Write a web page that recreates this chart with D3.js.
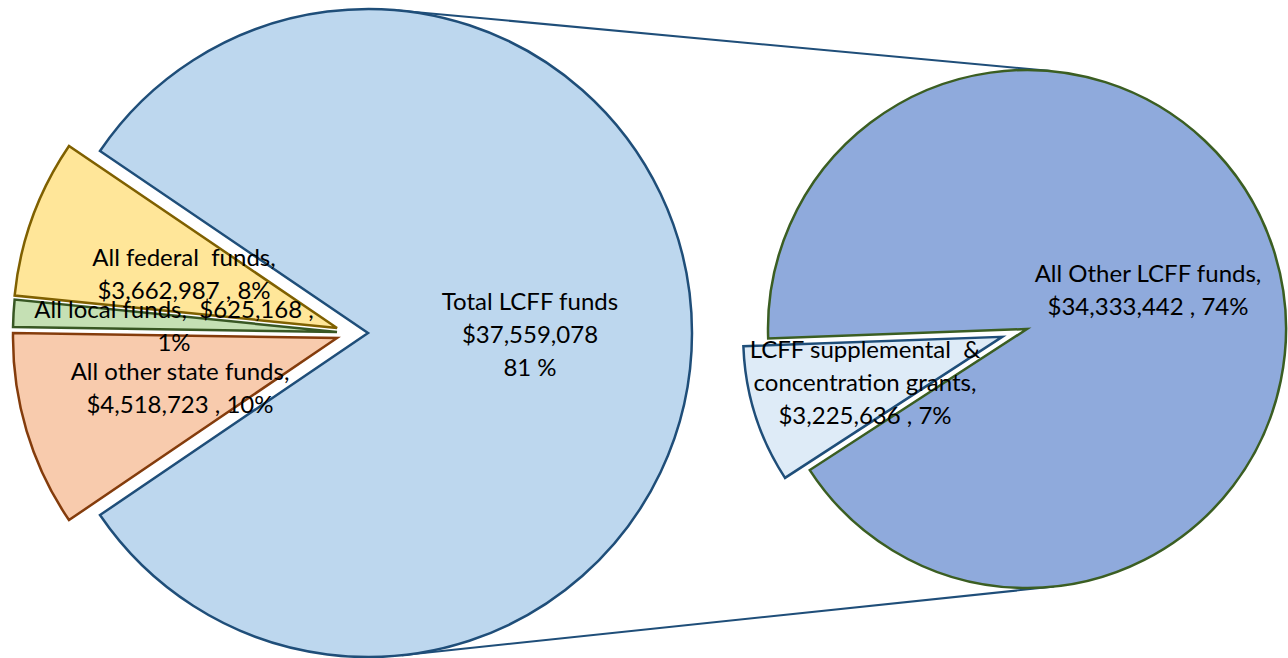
<!DOCTYPE html>
<html>
<head>
<meta charset="utf-8">
<script src="https://cdn.jsdelivr.net/npm/d3@7"></script>
<style>
  html, body { margin: 0; padding: 0; background: #fff; }
  svg { display: block; }
  text { font-family: Lato, "Open Sans", sans-serif; font-size: 24px; fill: #000; }
</style>
</head>
<body>
<svg id="chart" width="1288" height="658"></svg>
<script>
// ---- data ----
const mainCategories = ["Total LCFF funds", "All federal funds", "All local funds", "All other state funds"];
const mainValues = [37559078, 3662987, 625168, 4518723];
const mainPercents = ["81 %", "8%", "1%", "10%"];

const subCategories = ["LCFF supplemental & concentration grants", "All Other LCFF funds"];
const subValues = [3225636, 34333442];
const subPercents = ["7%", "74%"];

// ---- styles ----
const mainFill = ["#BDD7EE", "#FFE699", "#C5E0B4", "#F8CBAD"];
const mainStroke = ["#1F4E79", "#7F6000", "#385723", "#843C0C"];
const subFill = ["#DEEBF7", "#8FAADC"];
const subStroke = ["#1F4E79", "#3B5E22"];

const svg = d3.select("#chart");
const deg = Math.PI / 180;

// geometry
const c1 = {x: 368, y: 333, r: 324};
const c2 = {x: 1027, y: 329, r: 259};

// connector lines (external tangents)
const dx = c2.x - c1.x, dy = c2.y - c1.y, dist = Math.hypot(dx, dy);
const ux = dx / dist, uy = dy / dist;
const sa = (c1.r - c2.r) / dist, ca = Math.sqrt(1 - sa * sa);
[-1, 1].forEach(s => {
  const nx = ux * sa - s * uy * ca;
  const ny = uy * sa + s * ux * ca;
  svg.append("line")
    .attr("x1", c1.x + c1.r * nx).attr("y1", c1.y + c1.r * ny)
    .attr("x2", c2.x + c2.r * nx).attr("y2", c2.y + c2.r * ny)
    .attr("stroke", "#1F4E79").attr("stroke-width", 2);
});

// main pie: LCFF centred to the right, others counter-clockwise on the left
const total = d3.sum(mainValues);
const half = mainValues[0] / total * Math.PI;
const pieMain = d3.pie().sort(null).value(d => d)
  .startAngle(Math.PI / 2 + half).endAngle(Math.PI / 2 + half - 2 * Math.PI);
const arcMain = d3.arc().innerRadius(0).outerRadius(c1.r);
const mainOffsets = [[0, 0], [-31, -5], [-31, -1], [-31, 5]];

const gMain = svg.append("g").attr("transform", `translate(${c1.x},${c1.y})`);
gMain.selectAll("path").data(pieMain(mainValues)).join("path")
  .attr("d", arcMain)
  .attr("transform", (d, i) => `translate(${mainOffsets[i][0]},${mainOffsets[i][1]})`)
  .attr("fill", (d, i) => mainFill[i])
  .attr("stroke", (d, i) => mainStroke[i])
  .attr("stroke-width", 2.5)
  .attr("stroke-linejoin", "miter");

// sub pie
const pieSub = d3.pie().sort(null).value(d => d)
  .startAngle(237 * deg).endAngle(237 * deg + 2 * Math.PI);
const arcSub = d3.arc().innerRadius(0).outerRadius(c2.r);
const subArcs = pieSub(subValues);
const gSub = svg.append("g").attr("transform", `translate(${c2.x},${c2.y})`);
gSub.selectAll("path").data(subArcs.slice().reverse()).join("path")
  .attr("d", arcSub)
  .attr("transform", d => {
    if (d.index !== 0) return null;
    const m = (d.startAngle + d.endAngle) / 2, e = 26;
    return `translate(${e * Math.sin(m)},${-e * Math.cos(m)})`;
  })
  .attr("fill", d => subFill[d.index])
  .attr("stroke", d => subStroke[d.index])
  .attr("stroke-width", 2.5);

// ---- labels ----
const fmt = v => "$" + d3.format(",")(v);
function label(x, y, lines) {
  const t = svg.append("text").attr("text-anchor", "middle");
  lines.forEach((s, i) => {
    t.append("tspan").attr("x", x).attr("y", y + i * 33)
      .attr("dominant-baseline", "central")
      .attr("xml:space", "preserve")
      .text(s);
  });
}
label(530, 300, [mainCategories[0], fmt(mainValues[0]), mainPercents[0]]);
label(184, 256, ["All federal  funds,", fmt(mainValues[1]) + " , " + mainPercents[1]]);
label(174, 308, [mainCategories[2] + ",  " + fmt(mainValues[2]) + " ,", mainPercents[2]]);
label(180, 370, [mainCategories[3] + ",", fmt(mainValues[3]) + " , " + mainPercents[3]]);
label(1148, 272, [subCategories[1] + ",", fmt(subValues[1]) + " , " + subPercents[1]]);
label(865, 348, ["LCFF supplemental  &", "concentration grants,", fmt(subValues[0]) + " , " + subPercents[0]]);
</script>
</body>
</html>
